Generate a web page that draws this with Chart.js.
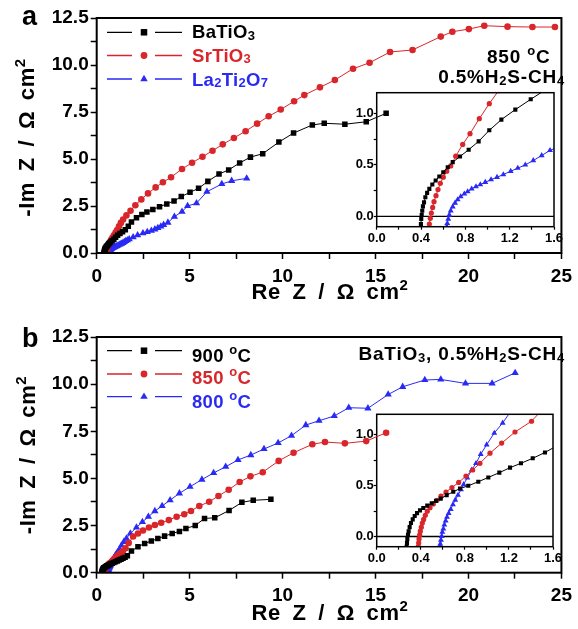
<!DOCTYPE html>
<html>
<head>
<meta charset="utf-8">
<script src="https://cdn.jsdelivr.net/npm/chart.js@4.4.0/dist/chart.umd.min.js"></script>
<style>
  html, body { margin: 0; padding: 0; background: #fff; }
  #wrap { position: relative; width: 578px; height: 629px; }
  canvas { position: absolute; left: 0; }
</style>
</head>
<body>
<div id="wrap">
  <canvas id="insetA" width="578" height="310" style="top:0"></canvas>
  <canvas id="mainA" width="578" height="310" style="top:0"></canvas>
  <canvas id="insetB" width="578" height="319" style="top:310px"></canvas>
  <canvas id="mainB" width="578" height="319" style="top:310px"></canvas>
</div>
<script>
const BLACK = '#000000';
const RED = '#d8262a';
const BLUE = '#2a2af5';
const FONT = '"Liberation Sans", Arial, sans-serif';

// (a) 850 °C, 0.5% H2S-CH4 : Re Z, -Im Z in ohm cm2
const aBaTiO3 = [
  [0.399,-0.074],[0.402,-0.025],[0.406,0.014],[0.411,0.055],[0.417,0.097],[0.427,0.136],
  [0.439,0.185],[0.455,0.228],[0.475,0.267],[0.502,0.309],[0.532,0.348],[0.565,0.387],
  [0.601,0.428],[0.641,0.477],[0.686,0.526],[0.752,0.581],[0.83,0.647],[0.92,0.728],
  [1.016,0.835],[1.125,0.939],[1.251,1.036],[1.39,1.136],[1.54,1.24],[1.7,1.42],
  [1.87,1.65],[2.14,1.88],[2.43,2.05],[2.7,2.18],[3.02,2.32],[3.38,2.46],[3.77,2.61],
  [4.16,2.77],[4.55,3.0],[5.02,3.23],[5.48,3.44],[5.98,3.81],[6.58,4.2],[7.1,4.42],
  [7.69,4.79],[8.27,5.1],[8.93,5.28],[9.8,5.9],[10.59,6.38],[11.6,6.81],[12.24,6.9],
  [13.35,6.85],[14.5,6.98],[15.57,7.43]
];
const aSrTiO3 = [
  [0.475,-0.074],[0.484,-0.019],[0.493,0.033],[0.505,0.087],[0.517,0.143],[0.535,0.201],
  [0.553,0.26],[0.574,0.321],[0.601,0.38],[0.632,0.438],[0.668,0.49],[0.713,0.584],
  [0.776,0.698],[0.842,0.802],[0.926,0.948],[1.016,1.094],[1.1,1.22],[1.2,1.42],
  [1.3,1.6],[1.42,1.78],[1.6,2.0],[1.82,2.25],[2.08,2.54],[2.4,2.85],[2.76,3.17],
  [3.17,3.49],[3.56,3.76],[4.0,4.03],[4.59,4.47],[5.13,4.8],[5.69,5.12],[6.23,5.44],
  [6.78,5.78],[7.38,6.12],[8.01,6.48],[8.63,6.88],[9.25,7.27],[9.9,7.63],[10.62,8.07],
  [11.17,8.4],[12.01,8.81],[12.81,9.2],[13.79,9.8],[14.68,10.12],[15.78,10.69],
  [16.99,10.8],[18.51,11.51],[19.13,11.77],[20.02,11.91],[20.85,12.09],[22.1,12.04],
  [23.44,12.02],[24.65,12.02]
];
const aLa2Ti2O7 = [
  [0.632,-0.1],[0.637,-0.068],[0.646,-0.025],[0.655,0.014],[0.668,0.055],[0.686,0.094],
  [0.707,0.13],[0.731,0.163],[0.758,0.192],[0.791,0.218],[0.821,0.24],[0.857,0.267],
  [0.896,0.289],[0.935,0.309],[0.98,0.331],[1.032,0.357],[1.086,0.38],[1.143,0.406],
  [1.209,0.438],[1.273,0.468],[1.341,0.5],[1.413,0.542],[1.489,0.591],[1.564,0.64],
  [1.65,0.68],[1.75,0.74],[1.96,0.84],[2.2,0.95],[2.49,1.05],[2.72,1.12],[2.94,1.19],
  [3.13,1.26],[3.29,1.33],[3.45,1.41],[3.6,1.5],[3.83,1.62],[4.18,1.93],[4.59,2.2],
  [4.89,2.5],[5.37,2.65],[5.93,3.26],[6.73,3.67],[7.26,3.84],[8.07,3.97]
];

// (b) BaTiO3 in 0.5% H2S-CH4 at three temperatures
const b900 = [
  [0.272,-0.1],[0.275,-0.063],[0.278,-0.024],[0.284,0.016],[0.29,0.052],[0.299,0.092],
  [0.311,0.132],[0.327,0.168],[0.345,0.201],[0.366,0.23],[0.393,0.257],[0.423,0.28],
  [0.459,0.303],[0.499,0.327],[0.538,0.35],[0.581,0.372],[0.635,0.406],[0.695,0.439],
  [0.756,0.471],[0.831,0.498],[0.922,0.538],[1.013,0.58],[1.113,0.627],[1.21,0.676],
  [1.309,0.719],[1.416,0.768],[1.527,0.825],[1.65,0.9],[1.87,1.15],[2.22,1.38],
  [2.58,1.55],[2.94,1.68],[3.29,1.81],[3.65,1.94],[4.06,2.08],[4.45,2.19],[4.8,2.35],
  [5.3,2.5],[5.8,2.88],[6.35,2.91],[7.12,3.3],[7.81,3.73],[8.42,3.84],[9.37,3.89]
];
const b850 = [
  [0.377,-0.1],[0.381,-0.063],[0.384,-0.024],[0.39,0.016],[0.396,0.052],[0.405,0.092],
  [0.414,0.132],[0.426,0.168],[0.441,0.208],[0.459,0.248],[0.484,0.283],[0.514,0.32],
  [0.547,0.356],[0.583,0.396],[0.629,0.436],[0.683,0.481],[0.744,0.531],[0.81,0.594],
  [0.871,0.653],[0.937,0.719],[1.028,0.818],[1.134,0.917],[1.255,1.026],[1.405,1.132],
  [1.55,1.3],[1.72,1.58],[1.96,1.92],[2.22,2.08],[2.49,2.24],[2.81,2.4],[3.13,2.53],
  [3.47,2.65],[3.88,2.79],[4.3,2.97],[4.71,3.1],[5.07,3.27],[5.52,3.54],[6.05,3.76],
  [6.55,4.07],[7.1,4.4],[7.69,4.81],[8.27,5.11],[8.93,5.33],[9.79,5.93],[10.59,6.36],
  [11.6,6.81],[12.28,6.93],[13.35,6.86],[14.5,6.98],[15.57,7.42]
];
const b800 = [
  [0.574,-0.1],[0.577,-0.073],[0.583,-0.034],[0.59,0.003],[0.596,0.043],[0.605,0.075],
  [0.614,0.115],[0.626,0.154],[0.638,0.191],[0.653,0.228],[0.672,0.267],[0.692,0.313],
  [0.713,0.359],[0.738,0.406],[0.765,0.461],[0.789,0.511],[0.822,0.577],[0.862,0.653],
  [0.901,0.719],[0.944,0.808],[0.998,0.901],[1.067,1.016],[1.143,1.115],[1.23,1.25],
  [1.33,1.45],[1.46,1.64],[1.6,1.82],[1.81,2.08],[2.14,2.4],[2.46,2.69],[2.78,2.97],
  [3.13,3.27],[3.52,3.54],[3.95,3.85],[4.45,4.21],[5.02,4.56],[5.66,4.94],[6.29,5.29],
  [6.94,5.62],[7.6,5.98],[8.29,6.24],[9.0,6.56],[9.76,6.88],[10.48,7.27],[11.25,7.83],
  [11.96,8.06],[12.78,8.31],[13.56,8.75],[14.59,8.72],[15.68,9.45],[16.46,9.86],
  [17.65,10.22],[18.51,10.25],[19.84,10.04],[21.27,10.04],[22.51,10.6]
];

// labelled ticks
const mainXTicks = [0, 5, 10, 15, 20, 25];
const mainYTicks = [0, 2.5, 5, 7.5, 10, 12.5];
const insetXTicks = [0, 0.4, 0.8, 1.2, 1.6];
const insetYTicks = [0, 0.5, 1.0];

const toXY = arr => arr.map(([x, y]) => ({ x, y }));

function labelIf(v, list, digits) {
  return list.some(t => Math.abs(t - v) < 1e-6) ? v.toFixed(digits) : '';
}

function series(data, color, style, r) {
  return {
    data: toXY(data),
    borderColor: color,
    backgroundColor: color,
    borderWidth: 1,
    pointStyle: style,
    pointRadius: r,
    pointHoverRadius: r,
    pointBorderWidth: 0,
    showLine: true,
    tension: 0
  };
}

// text with sub/superscript parts: [[text, ''|'sub'|'sup'], ...], y is baseline
function drawRich(ctx, parts, x, y, size, align, color, spacing, wordGap) {
  const fontFor = k => `bold ${k ? Math.round(size * 0.7) : size}px ${FONT}`;
  ctx.save();
  ctx.letterSpacing = (spacing || 0) + 'px';
  ctx.wordSpacing = (wordGap || 0) + 'px';
  let total = 0;
  parts.forEach(([t, k]) => { ctx.font = fontFor(k); total += ctx.measureText(t).width; });
  let cx = align === 'right' ? x - total : align === 'center' ? x - total / 2 : x;
  ctx.textAlign = 'left';
  ctx.textBaseline = 'alphabetic';
  ctx.fillStyle = color;
  parts.forEach(([t, k]) => {
    ctx.font = fontFor(k);
    const dy = k === 'sub' ? size * 0.08 : k === 'sup' ? -size * 0.42 : 0;
    ctx.fillText(t, cx, y + dy);
    cx += ctx.measureText(t).width;
  });
  ctx.restore();
}

function legendRow(ctx, y, color, style, r, parts, baseline) {
  ctx.save();
  ctx.strokeStyle = color;
  ctx.fillStyle = color;
  ctx.lineWidth = 1.3;
  ctx.beginPath();
  ctx.moveTo(107, y); ctx.lineTo(132, y);
  ctx.moveTo(155, y); ctx.lineTo(182, y);
  ctx.stroke();
  Chart.helpers.drawPoint(ctx, { pointStyle: style, radius: r, borderWidth: 0, rotation: 0 }, 144, y);
  ctx.restore();
  drawRich(ctx, parts, 192, baseline, 18.5, 'left', color, 0.3, 0);
}

function axisTitles(ctx, xCenter, xBase, yCenter, yBase) {
  const re = [['Re Z / \u03A9 cm', ''], ['2', 'sup']];
  const im = [['-Im Z / \u03A9 cm', ''], ['2', 'sup']];
  drawRich(ctx, re, xCenter, xBase, 22, 'center', BLACK, 0.6, 5);
  ctx.save();
  ctx.translate(yBase, yCenter);
  ctx.rotate(-Math.PI / 2);
  drawRich(ctx, im, 0, 0, 22, 'center', BLACK, 0.6, 4);
  ctx.restore();
}

const frame = w => ({
  id: 'frame',
  afterDraw(chart) {
    const { ctx, chartArea: a } = chart;
    ctx.save();
    ctx.strokeStyle = BLACK;
    ctx.lineWidth = w;
    ctx.strokeRect(a.left, a.top, a.right - a.left, a.bottom - a.top);
    ctx.restore();
  }
});

const zeroLine = {
  id: 'zeroLine',
  beforeDatasetsDraw(chart) {
    const { ctx, chartArea: a, scales } = chart;
    const y = scales.y.getPixelForValue(0);
    ctx.save();
    ctx.strokeStyle = BLACK;
    ctx.lineWidth = 1.3;
    ctx.beginPath();
    ctx.moveTo(a.left, y); ctx.lineTo(a.right, y);
    ctx.stroke();
    ctx.restore();
  }
};

function tickFont(size) {
  return { size, weight: 'bold', family: FONT };
}

function mainChart(id, datasets, top, xHeight, decor) {
  return new Chart(document.getElementById(id), {
    type: 'scatter',
    data: { datasets },
    options: {
      responsive: false,
      animation: false,
      events: [],
      layout: { padding: { left: 0, top, right: 13, bottom: 0 } },
      plugins: { legend: { display: false }, tooltip: { enabled: false } },
      scales: {
        x: {
          type: 'linear', min: 0, max: 25,
          afterFit: s => { s.height = xHeight; },
          ticks: { stepSize: 2.5, autoSkip: false, maxRotation: 0, padding: 6, color: BLACK,
                   font: tickFont(19), callback: v => labelIf(v, mainXTicks, 0) },
          grid: { drawOnChartArea: false, drawTicks: true, tickLength: 6, tickWidth: 1.5, tickColor: BLACK },
          border: { display: false }
        },
        y: {
          type: 'linear', min: 0, max: 12.5,
          afterFit: s => { s.width = 96.7; },
          ticks: { stepSize: 1.25, autoSkip: false, padding: 2, color: BLACK,
                   font: tickFont(19), callback: v => labelIf(v, mainYTicks, 1) },
          grid: { drawOnChartArea: false, drawTicks: true, tickLength: 6, tickWidth: 1.5, tickColor: BLACK },
          border: { display: false }
        }
      }
    },
    plugins: [frame(2), { id: 'decor', afterDraw: chart => decor(chart.ctx) }]
  });
}

function insetChart(id, datasets, area, W, H) {
  const yw = 40, xh = 22;
  return new Chart(document.getElementById(id), {
    type: 'scatter',
    data: { datasets },
    options: {
      responsive: false,
      animation: false,
      events: [],
      layout: { padding: { left: area.left - yw, top: area.top, right: W - area.right, bottom: H - area.bottom - xh } },
      plugins: { legend: { display: false }, tooltip: { enabled: false } },
      scales: {
        x: {
          type: 'linear', min: 0, max: 1.6,
          afterFit: s => { s.height = xh; },
          ticks: { stepSize: 0.2, autoSkip: false, maxRotation: 0, padding: 1, color: BLACK,
                   font: tickFont(13), callback: v => labelIf(v, insetXTicks, 1) },
          grid: { drawOnChartArea: false, drawTicks: true, tickLength: 3, tickWidth: 1.2, tickColor: BLACK },
          border: { display: false }
        },
        y: {
          type: 'linear', min: -0.1, max: 1.2,
          afterFit: s => { s.width = yw; },
          ticks: { stepSize: 0.25, includeBounds: false, autoSkip: false, padding: 0, color: BLACK,
                   font: tickFont(13), callback: v => labelIf(v, insetYTicks, 1) },
          grid: { drawOnChartArea: false, drawTicks: true, tickLength: 3, tickWidth: 1.2, tickColor: BLACK },
          border: { display: false }
        }
      }
    },
    plugins: [zeroLine, frame(1.5)]
  });
}

// panel (a)
insetChart('insetA', [
  series(aBaTiO3, BLACK, 'rect', 2.9),
  series(aSrTiO3, RED, 'circle', 2.6),
  series(aLa2Ti2O7, BLUE, 'triangle', 3.4)
], { left: 376.7, top: 92.7, right: 554, bottom: 226.7 }, 578, 310);

mainChart('mainA', [
  series(aBaTiO3, BLACK, 'rect', 3.9),
  series(aSrTiO3, RED, 'circle', 3.3),
  series(aLa2Ti2O7, BLUE, 'triangle', 4.2)
], 18, 57, ctx => {
  drawRich(ctx, [['a', '']], 22, 25, 27, 'left', BLACK, 0, 0);
  legendRow(ctx, 32.3, BLACK, 'rect', 4.6, [['BaTiO', ''], ['3', 'sub']], 38.3);
  legendRow(ctx, 55.5, RED, 'circle', 3.4, [['SrTiO', ''], ['3', 'sub']], 61.7);
  legendRow(ctx, 79, BLUE, 'triangle', 4.3, [['La', ''], ['2', 'sub'], ['Ti', ''], ['2', 'sub'], ['O', ''], ['7', 'sub']], 85.7);
  drawRich(ctx, [['850 ', ''], ['o', 'sup'], ['C', '']], 487, 63, 19, 'left', BLACK, 0.8, 0);
  drawRich(ctx, [['0.5%H', ''], ['2', 'sub'], ['S-CH', ''], ['4', 'sub']], 565, 83.3, 19, 'right', BLACK, 0.8, 0);
  axisTitles(ctx, 330, 299, 137.5, 34);
});

// panel (b)
insetChart('insetB', [
  series(b900, BLACK, 'rect', 2.9),
  series(b850, RED, 'circle', 2.6),
  series(b800, BLUE, 'triangle', 3.4)
], { left: 376.7, top: 104.3, right: 553, bottom: 236.7 }, 578, 319);

mainChart('mainB', [
  series(b900, BLACK, 'rect', 3.9),
  series(b850, RED, 'circle', 3.3),
  series(b800, BLUE, 'triangle', 4.2)
], 27, 56.3, ctx => {
  drawRich(ctx, [['b', '']], 22, 37, 27, 'left', BLACK, 0, 0);
  legendRow(ctx, 40.7, BLACK, 'rect', 4.6, [['900 ', ''], ['o', 'sup'], ['C', '']], 51.7);
  legendRow(ctx, 64, RED, 'circle', 3.4, [['850 ', ''], ['o', 'sup'], ['C', '']], 73.5);
  legendRow(ctx, 86.7, BLUE, 'triangle', 4.3, [['800 ', ''], ['o', 'sup'], ['C', '']], 98);
  drawRich(ctx, [['BaTiO', ''], ['3', 'sub'], [', 0.5%H', ''], ['2', 'sub'], ['S-CH', ''], ['4', 'sub']], 565, 50, 19, 'right', BLACK, 0.8, 0);
  axisTitles(ctx, 330, 310, 145, 35);
});
</script>
</body>
</html>
